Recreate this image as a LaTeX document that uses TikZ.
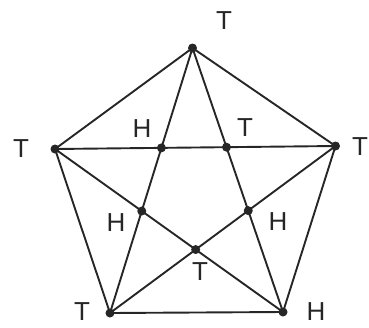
\documentclass[tikz,border=0pt]{standalone}
\usepackage{fontspec}
\setmainfont{Liberation Sans}
\begin{document}
\begin{tikzpicture}[x=1pt,y=-1pt,
  edge/.style={line width=1.9pt, black!85},
  dot/.style={circle, fill=black!85, inner sep=0pt, minimum size=9pt},
  lab/.style={font=\fontsize{26}{26}\selectfont, text=black!85, inner sep=0pt}]
\useasboundingbox (0,0) rectangle (369,327);
% outer vertices
\coordinate (A) at (192.5,48);
\coordinate (B) at (55,149);
\coordinate (C) at (335.5,146);
\coordinate (D) at (110,313);
\coordinate (E) at (283,312);
% pentagon and star
\draw[edge] (A) -- (C) -- (E) -- (D) -- (B) -- cycle;
\draw[edge] (A) -- (D);
\draw[edge] (A) -- (E);
\draw[edge] (B) -- (C);
\draw[edge] (B) -- (E);
\draw[edge] (C) -- (D);
% inner intersection points
\coordinate (P1) at (intersection of A--D and B--C);
\coordinate (P2) at (intersection of A--E and B--C);
\coordinate (P3) at (intersection of A--D and B--E);
\coordinate (P4) at (intersection of A--E and C--D);
\coordinate (P5) at (intersection of B--E and C--D);
\foreach \p in {A,B,C,D,E,P1,P2,P3,P4,P5} \node[dot] at (\p) {};
% labels
\node[lab] (lA) at (224,21) {T};
\node[lab] (lB) at (21,149) {T};
\node[lab] (lC) at (360,147) {T};
\node[lab] (lD) at (82,312) {T};
\node[lab] (lE) at (316,312) {H};
\node[lab] (l1) at (142,128.5) {H};
\node[lab] (l2) at (245,127.5) {T};
\node[lab] (l3) at (116,223) {H};
\node[lab] (l4) at (278,222) {H};
\node[lab] (l5) at (200,272) {T};
\end{tikzpicture}
\end{document}
